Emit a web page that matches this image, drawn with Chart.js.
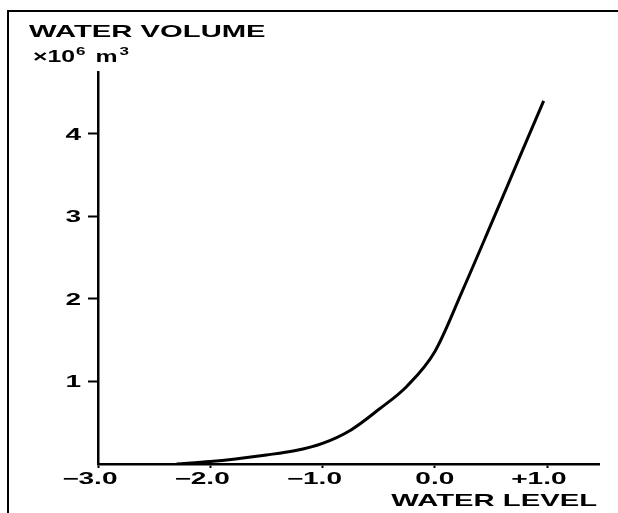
<!DOCTYPE html>
<html>
<head>
<meta charset="utf-8">
<script src="https://cdn.jsdelivr.net/npm/chart.js@4/dist/chart.umd.min.js"></script>
<style>
  body { margin: 0; background: #fff; }
  #wrap { width: 618px; height: 513px; }
</style>
</head>
<body>
<div id="wrap"><canvas id="volume__chart" width="618" height="513"></canvas></div>
<script>
// water level (x) vs water volume in 10^6 m3 (y)
var waterLevel = [-2.3, -2.0, -1.5, -1.25, -1.0, -0.75, -0.5, -0.25, 0.0, 0.25, 0.5, 0.75, 0.97];
var waterVolume = [0, 0.03, 0.11, 0.16, 0.25, 0.41, 0.66, 0.94, 1.36, 2.11, 2.90, 3.70, 4.40];

var xTicks = [-3, -2, -1, 0, 1];
var xTickLabels = ['\u22123.0', '\u22122.0', '\u22121.0', '0.0', '+1.0'];
var yTicks = [1, 2, 3, 4];
var yTickLabels = ['1', '2', '3', '4'];

var FONT = '"Liberation Sans", Arial, sans-serif';
var SX = 1.72; // the lettering in the scan is stretched sideways

var points = waterLevel.map(function (v, i) { return { x: v, y: waterVolume[i] }; });

// draw text stretched horizontally; align: 'left' | 'right' | 'center'
function wide(c, text, x, y, size, align, sx) {
    sx = sx || SX;
    c.save();
    c.font = 'bold ' + size + 'px ' + FONT;
    c.textAlign = align;
    c.textBaseline = 'alphabetic';
    c.translate(x, y);
    c.scale(sx, 1);
    c.fillText(text, 0, 0);
    c.restore();
}
function wideWidth(c, text, size, sx) {
    c.save();
    c.font = 'bold ' + size + 'px ' + FONT;
    var w = c.measureText(text).width * (sx || SX);
    c.restore();
    return w;
}

var textPlugin = {
    id: 'textPlugin',
    beforeDraw: function (chart) {
        var c = chart.ctx;
        c.save();
        c.fillStyle = '#fff';
        c.fillRect(0, 0, chart.width, chart.height);
        c.strokeStyle = '#000';
        c.lineWidth = 2;
        c.beginPath();
        c.moveTo(8, 513);
        c.lineTo(8, 11);
        c.lineTo(618, 11);
        c.stroke();
        c.restore();
    },
    afterDraw: function (chart) {
        var c = chart.ctx;
        var xs = chart.scales.x;
        var ys = chart.scales.y;
        c.save();
        c.fillStyle = '#000';

        // x tick labels: digits centred on the tick, sign hangs to the left
        xTicks.forEach(function (v, i) {
            var lab = xTickLabels[i];
            var sign = /^[\u2212+]/.test(lab) ? lab.charAt(0) : '';
            var num = sign ? lab.slice(1) : lab;
            var signW = sign ? wideWidth(c, sign, 16, 1.75) : 0;
            var numW = wideWidth(c, num, 16, 1.75);
            var px = xs.getPixelForValue(v);
            wide(c, lab, px - numW / 2 - signW, 483.5, 16, 'left', 1.75);
        });

        // y tick labels
        yTicks.forEach(function (v, i) {
            var py = ys.getPixelForValue(v);
            wide(c, yTickLabels[i], 81, py + 6, 16, 'right', 1.75);
        });

        // y title
        wide(c, 'WATER VOLUME', 29, 37, 17, 'left');
        var x = 33;
        wide(c, '\u00d710', x, 62, 16, 'left', 1.55);
        x += wideWidth(c, '\u00d710', 16, 1.55) + 1;
        wide(c, '6', x, 55, 11, 'left', 1.55);
        x += wideWidth(c, '6', 11, 1.55) + 10;
        wide(c, 'm', x, 62, 16, 'left', 1.55);
        x += wideWidth(c, 'm', 16, 1.55) + 2;
        wide(c, '3', x, 55, 11, 'left', 1.55);

        // x title
        wide(c, 'WATER LEVEL', xs.right - 2, 506, 17, 'right');
        c.restore();
    }
};

var ctx = document.getElementById('volume__chart').getContext('2d');
var volumeChart = new Chart(ctx, {
    type: 'line',
    data: {
        datasets: [{
            data: points,
            borderColor: '#000',
            borderWidth: 3,
            pointRadius: 0,
            fill: false,
            cubicInterpolationMode: 'monotone'
        }]
    },
    options: {
        responsive: false,
        animation: false,
        layout: { padding: { left: 0, top: 72, right: 19, bottom: 0 } },
        plugins: {
            legend: { display: false },
            tooltip: { enabled: false },
            title: { display: false }
        },
        scales: {
            x: {
                type: 'linear',
                min: -3,
                max: 1.463,
                afterBuildTicks: function (s) { s.ticks = xTicks.map(function (v) { return { value: v }; }); },
                afterFit: function (s) { s.height = 49; },
                ticks: { display: false },
                grid: {
                    drawOnChartArea: false,
                    drawTicks: true,
                    tickLength: 4,
                    tickColor: '#000',
                    tickWidth: 2
                },
                border: { display: true, color: '#000', width: 2.5 }
            },
            y: {
                type: 'linear',
                min: 0,
                max: 4.75,
                afterBuildTicks: function (s) { s.ticks = yTicks.map(function (v) { return { value: v }; }); },
                afterFit: function (s) { s.width = 98; },
                ticks: { display: false },
                grid: {
                    drawOnChartArea: false,
                    drawTicks: true,
                    tickLength: 10,
                    tickColor: '#000',
                    tickWidth: 2
                },
                border: { display: true, color: '#000', width: 2.5 }
            }
        }
    },
    plugins: [textPlugin]
});
</script>
</body>
</html>
